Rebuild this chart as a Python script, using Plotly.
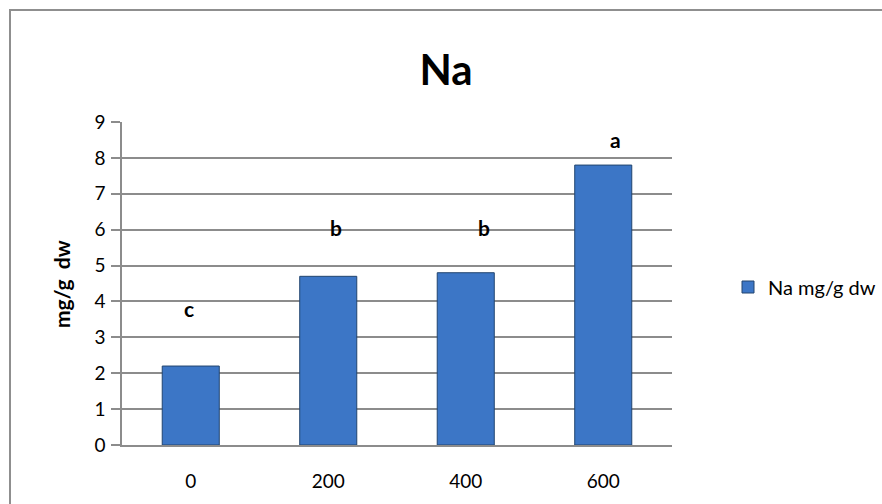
import plotly.graph_objects as go

# Sodium content by treatment level
categories = ["0", "200", "400", "600"]
na_values = [2.2, 4.7, 4.8, 7.8]
sig_letters = ["c", "b", "b", "a"]
letter_y = [3.8, 6.05, 6.05, 8.5]
letter_dx = [-2, 8, 18, 12]
y_ticks = list(range(0, 10))

W, H = 882, 504
L, R, T, B = 122, 672, 122, 445  # plot area in pixels
pw, ph = R - L, B - T

def px_x(x):
    return (x - L) / pw

def px_y(y):
    return (B - y) / ph

FONT = "Lato, Carlito, Calibri, sans-serif"
GRID = "#8c8c8c"

fig = go.Figure()
fig.add_trace(go.Bar(
    x=categories,
    y=na_values,
    name="Na mg/g dw",
    marker=dict(color="#3c76c6", line=dict(color="#22456f", width=1)),
))

# significance letters above the bars (category index positions)
for i, (lab, ly, dx) in enumerate(zip(sig_letters, letter_y, letter_dx)):
    fig.add_annotation(x=i, y=ly, xshift=dx, text=f"<b>{lab}</b>", showarrow=False,
                       font=dict(family=FONT, size=21, color="black"),
                       xref="x", yref="y")

# y-axis title
fig.add_annotation(x=px_x(61), y=px_y(284), xref="paper", yref="paper",
                   xanchor="center", yanchor="middle",
                   text="<b>mg/g\u00a0\u00a0dw</b>", textangle=-90, showarrow=False,
                   font=dict(family=FONT, size=21, color="black"))

# chart border (top and left edges visible)
fig.add_shape(type="rect", xref="paper", yref="paper",
              x0=px_x(10), x1=px_x(900), y0=px_y(520), y1=px_y(10),
              line=dict(color="#8f8f8f", width=2), layer="below")

fig.update_layout(
    width=W, height=H,
    margin=dict(l=L, r=W - R, t=T, b=H - B, autoexpand=False),
    paper_bgcolor="white", plot_bgcolor="white",
    title=dict(text="<b>Na</b>", x=px_x(446), xref="paper", xanchor="center",
               y=1 - 70 / H, yanchor="middle",
               font=dict(family=FONT, size=42, color="black")),
    font=dict(family=FONT, size=18, color="black"),
    showlegend=True,
    legend=dict(x=px_x(728), y=px_y(287), xanchor="left", yanchor="middle",
                font=dict(family=FONT, size=20, color="black"),
                bgcolor="rgba(0,0,0,0)", itemwidth=30),
    bargap=0.585,
)

fig.update_xaxes(
    type="category", range=[-0.5, 3.5], showgrid=False, showline=True,
    linecolor=GRID, linewidth=1.5, ticks="", ticklabelstandoff=18,
    tickfont=dict(family=FONT, size=19), zeroline=False,
)
fig.update_yaxes(
    range=[0, 9], tickvals=y_ticks, showgrid=True, gridcolor=GRID, gridwidth=1.5,
    showline=True, linecolor=GRID, linewidth=1.5, ticks="outside", ticklen=9,
    tickcolor=GRID, tickwidth=1.5, tickfont=dict(family=FONT, size=19),
    zeroline=False, ticklabelstandoff=2,
)

fig.write_html("out.html")
